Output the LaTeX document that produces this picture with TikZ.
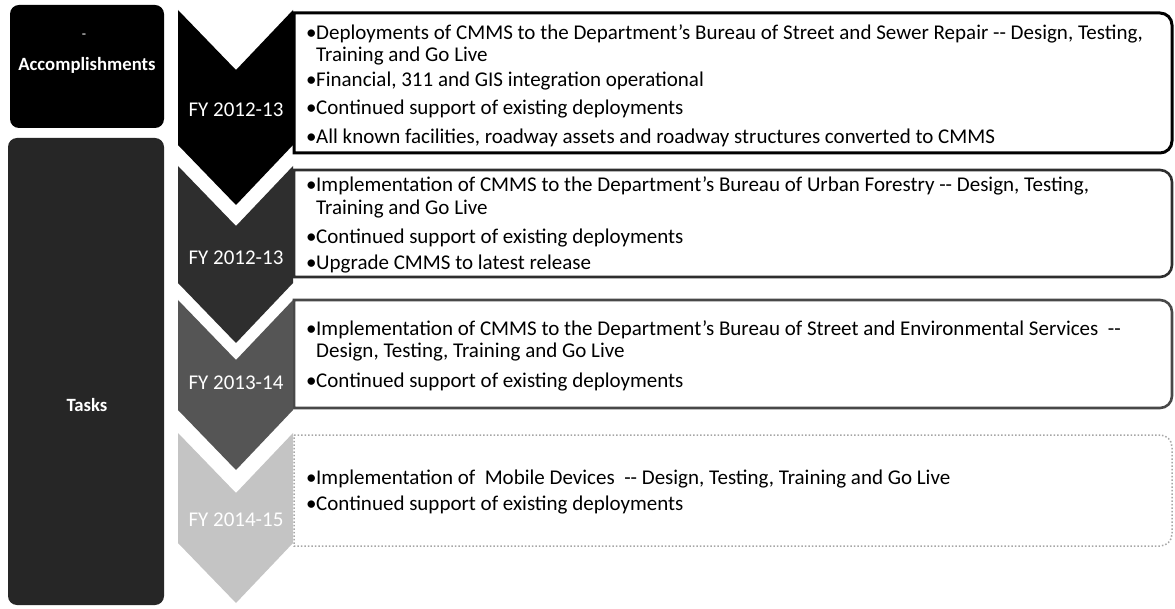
\documentclass[tikz,border=0pt]{standalone}
\usepackage{fontspec}
\setmainfont{Carlito}
\definecolor{tasksgray}{HTML}{262626}
\definecolor{chevtwo}{HTML}{2E2E2E}
\definecolor{chevthree}{HTML}{555555}
\definecolor{chevfour}{HTML}{C4C4C4}
\tikzset{
  body/.style={font=\fontsize{21}{24}\selectfont, anchor=base west, inner sep=0pt, text=black},
  bul/.style={font=\fontsize{21}{24}\selectfont, anchor=base west, inner sep=0pt, text=black},
  chevlab/.style={font=\fontsize{21}{24}\selectfont, text=white, inner sep=0pt},
  sidelab/.style={font=\bfseries\fontsize{18.7}{22}\selectfont, text=white, inner sep=0pt},
  rowone/.style={draw=black, line width=3pt, fill=white},
  rowtwo/.style={draw=chevtwo, line width=2.6pt, fill=white},
  rowthree/.style={draw=chevthree!85!black, line width=2.6pt, fill=white},
  rowfour/.style={draw=gray!70, line width=1.5pt, dotted, fill=white},
}
\newcommand\rowboxpath[2]{(294,#1) -- (1160,#1) arc[start angle=-90, end angle=0, radius=12] -- (1172,#2-12) arc[start angle=0, end angle=90, radius=12] -- (294,#2) -- cycle}
\newcommand\chevpath[2]{(178,#1) -- (236,#1+60) -- (293,#1) -- (293,#2-60) -- (236,#2) -- (178,#2-60) -- cycle}
\begin{document}
\begin{tikzpicture}[x=1pt,y=-1pt]
\useasboundingbox (0,0) rectangle (1175,609);
\fill[white] (0,0) rectangle (1175,609);

% left side boxes
\fill[black, rounded corners=9] (10,5) rectangle (164,128);
\node[sidelab] (acc) at (87,65) {Accomplishments};
\node[sidelab, font=\fontsize{14}{16}\selectfont] (accdash) at (84,36) {-};
\fill[tasksgray, rounded corners=9] (8,138) rectangle (164,605);
\node[sidelab] (tasks) at (87,405) {Tasks};

% row boxes
\draw[rowone] \rowboxpath{13}{153};
\draw[rowtwo] \rowboxpath{170}{277};
\draw[rowthree] \rowboxpath{300}{408};
\draw[rowfour] \rowboxpath{435}{546};

% chevrons
\fill[black] \chevpath{10}{205};
\fill[chevtwo] \chevpath{166}{343};
\fill[chevthree] \chevpath{300}{470};
\fill[chevfour] \chevpath{433}{603};

\node[chevlab] (fy1) at (236,110) {FY 2012-13};
\node[chevlab] (fy2) at (236,258) {FY 2012-13};
\node[chevlab] (fy3) at (236,383) {FY 2013-14};
\node[chevlab] (fy4) at (236,520) {FY 2014-15};

% row 1 text
\node[bul] (b1a) at (306,40) {\textbullet};
\node[body] (t1a) at (316,40) {Deployments of CMMS to the Department's Bureau of Street and Sewer Repair -{}- Design, Testing,};
\node[body] (t1b) at (316,62) {Training and Go Live};
\node[bul] (b1c) at (306,87) {\textbullet};
\node[body] (t1c) at (316,87) {Financial, 311 and GIS integration operational};
\node[bul] (b1d) at (306,115) {\textbullet};
\node[body] (t1d) at (316,115) {Continued support of existing deployments};
\node[bul] (b1e) at (306,144) {\textbullet};
\node[body] (t1e) at (316,144) {All known facilities, roadway assets and roadway structures converted to CMMS};

% row 2 text
\node[bul] (b2a) at (306,192) {\textbullet};
\node[body] (t2a) at (316,192) {Implementation of CMMS to the Department's Bureau of Urban Forestry -{}- Design, Testing,};
\node[body] (t2b) at (316,215) {Training and Go Live};
\node[bul] (b2c) at (306,244) {\textbullet};
\node[body] (t2c) at (316,244) {Continued support of existing deployments};
\node[bul] (b2d) at (306,270) {\textbullet};
\node[body] (t2d) at (316,270) {Upgrade CMMS to latest release};

% row 3 text
\node[bul] (b3a) at (306,336) {\textbullet};
\node[body] (t3a) at (316,336) {Implementation of CMMS to the Department's Bureau of Street and Environmental Services\ \ -{}-};
\node[body] (t3b) at (316,358) {Design, Testing, Training and Go Live};
\node[bul] (b3c) at (306,388) {\textbullet};
\node[body] (t3c) at (316,388) {Continued support of existing deployments};

% row 4 text
\node[bul] (b4a) at (306,484) {\textbullet};
\node[body] (t4a) at (316,484) {Implementation of\ \ Mobile Devices\ \ -{}- Design, Testing, Training and Go Live};
\node[bul] (b4b) at (306,510) {\textbullet};
\node[body] (t4b) at (316,510) {Continued support of existing deployments};
\end{tikzpicture}
\end{document}
